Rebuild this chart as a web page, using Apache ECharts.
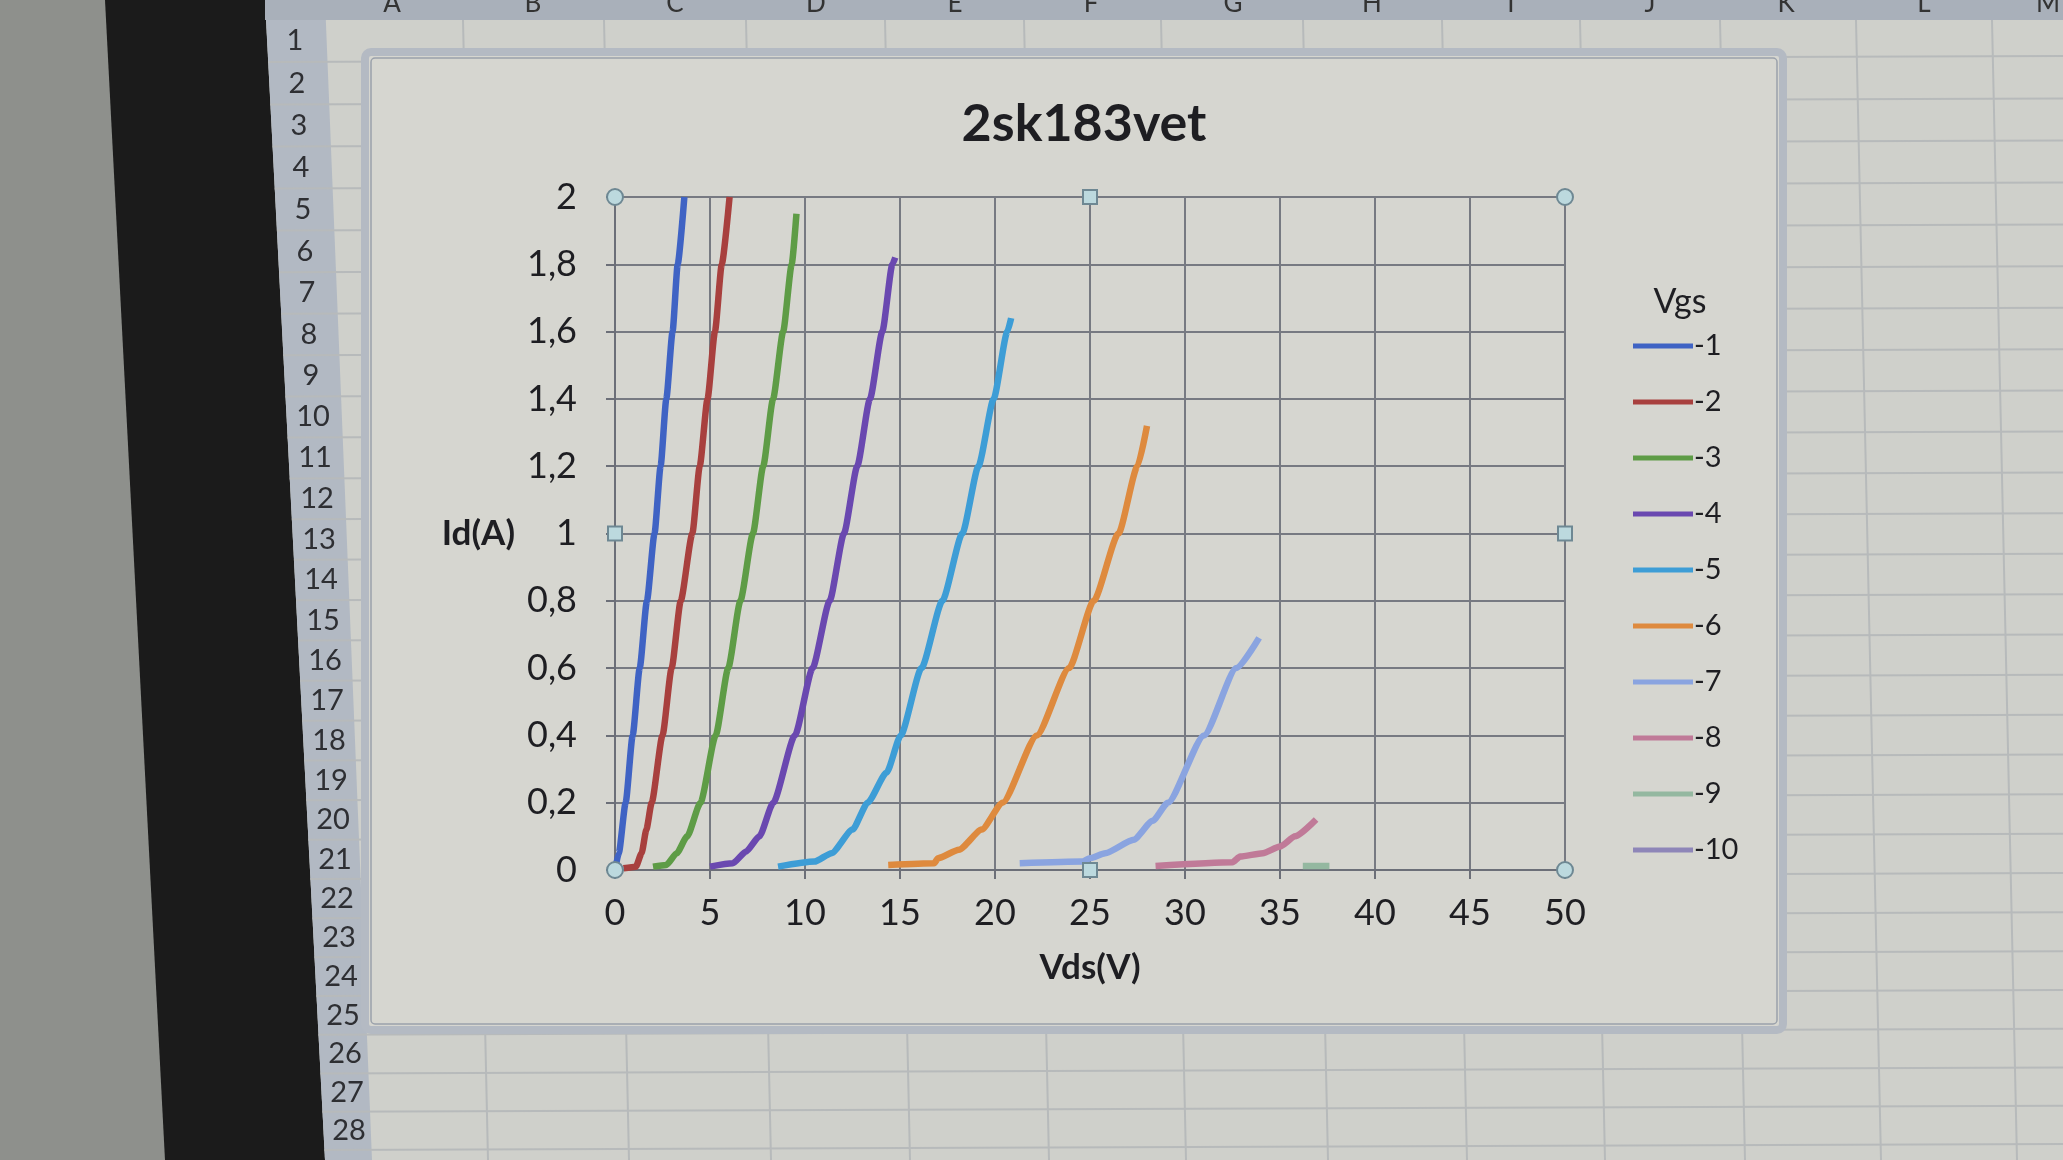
<!DOCTYPE html>
<html>
<head>
<meta charset="utf-8">
<script src="https://cdn.jsdelivr.net/npm/echarts@6/dist/echarts.min.js"></script>
<style>
html,body{margin:0;padding:0;background:#cfd0cb;}
#c{width:2063px;height:1160px;}
</style>
</head>
<body>
<div id="c"></div>
<script>
// ---- data ----
const chartTitle = '2sk183vet';
const legendTitle = 'Vgs';
const xName = 'Vds(V)';
const yName = 'Id(A)';
const vgsLabels = ['-1','-2','-3','-4','-5','-6','-7','-8','-9','-10'];
const vgs1 = [[0,0],[0.2,0.05],[0.56,0.2],[0.93,0.4],[1.3,0.6],[1.68,0.8],[2.08,1.0],[2.4,1.2],[2.7,1.4],[3.03,1.6],[3.3,1.8],[3.65,2.0]];
const vgs2 = [[0.45,0.005],[1.1,0.01],[1.4,0.05],[1.65,0.12],[1.93,0.2],[2.5,0.4],[2.98,0.6],[3.46,0.8],[4.07,1.0],[4.46,1.2],[4.87,1.4],[5.26,1.6],[5.62,1.8],[6.03,2.0]];
const vgs3 = [[2.0,0.01],[2.7,0.015],[3.25,0.05],[3.8,0.1],[4.5,0.2],[5.3,0.4],[5.96,0.6],[6.6,0.8],[7.26,1.0],[7.8,1.2],[8.32,1.4],[8.85,1.6],[9.3,1.8],[9.55,1.95]];
const vgs4 = [[5.0,0.01],[6.2,0.02],[6.9,0.055],[7.6,0.1],[8.33,0.2],[9.47,0.4],[10.4,0.6],[11.3,0.8],[12.05,1.0],[12.75,1.2],[13.42,1.4],[14.07,1.6],[14.6,1.8],[14.75,1.82]];
const vgs5 = [[8.58,0.01],[10.5,0.025],[11.4,0.05],[12.5,0.12],[13.3,0.2],[14.3,0.29],[15.04,0.4],[16.13,0.6],[17.23,0.8],[18.28,1.0],[19.13,1.2],[19.93,1.4],[20.65,1.6],[20.85,1.64]];
const vgs6 = [[14.38,0.015],[16.8,0.02],[17.0,0.035],[18.1,0.06],[19.3,0.12],[20.4,0.2],[22.2,0.4],[23.9,0.6],[25.2,0.8],[26.5,1.0],[27.5,1.2],[28.0,1.32]];
const vgs7 = [[21.3,0.02],[24.6,0.025],[25.0,0.035],[25.8,0.05],[27.3,0.09],[28.3,0.146],[29.1,0.2],[31.0,0.4],[32.7,0.6],[33.9,0.69]];
const vgs8 = [[28.45,0.012],[32.5,0.023],[32.9,0.04],[34.1,0.05],[35.0,0.07],[35.8,0.1],[36.9,0.15]];
const vgs9 = [[36.2,0.012],[37.6,0.012]];
const vgs10 = [];
const curves = [vgs1,vgs2,vgs3,vgs4,vgs5,vgs6,vgs7,vgs8,vgs9,vgs10];
const columnLetters = ['A','B','C','D','E','F','G','H','I','J','K','L','M'];

// ---- styling ----
const colors = ['#3f63c4','#a8403e','#5e9c46','#6a48b0','#3d9dd6','#de8a3e','#8aa4e0','#c07a98','#94b8a0','#8e86b8'];
const FONT = 'Lato, "Open Sans", sans-serif';
const TXT = '#1e1e22';
const G = {left:615, top:197, width:950, height:673};

const chart = echarts.init(document.getElementById('c'));

// spreadsheet / monitor surroundings
const bg = [];
bg.push({type:'polygon', z:-20, shape:{points:[[0,0],[110,0],[170,1160],[0,1160]]}, style:{fill:'#8e908c'}});
bg.push({type:'polygon', z:-19, shape:{points:[[105,0],[265,0],[325,1160],[165,1160]]}, style:{fill:'#1b1b1b'}});
bg.push({type:'polygon', z:-18, shape:{points:[[265,0],[325,0],[372,1160],[325,1160]]}, style:{fill:'#b2b9c3'}});
bg.push({type:'rect', z:-18, shape:{x:265,y:0,width:1798,height:20}, style:{fill:'#a9b0ba'}});
const colX = [392,533,675,816,955,1091,1233,1372,1511,1650,1786,1924,2048];
columnLetters.forEach((c,i)=>{
  bg.push({type:'text', z:-17, style:{text:c, x:colX[i], y:4, fill:'#333', font:'26px '+FONT, textAlign:'center', textVerticalAlign:'middle'}});
});
[463,604,746,885,1024,1161,1303,1442,1580,1720,1856,1992].forEach(x=>{
  bg.push({type:'line', z:-17, shape:{x1:x,y1:20,x2:x+25,y2:1160}, style:{stroke:'#b7babb', lineWidth:2}});
});
for(let i=1;i<=28;i++){
  const k=i-1;
  const yd = 31 + 32.3*k - 0.06*k*k;
  const y = yd*1.316;
  const x = 295 + 54*k/27;
  bg.push({type:'text', z:-16, style:{text:String(i), x:x, y:y, fill:'#2e2f33', font:'29px '+FONT, textAlign:'center', textVerticalAlign:'middle'}});
  const yb = (31 + 32.3*(k+0.5) - 0.06*(k+0.5)*(k+0.5))*1.316;
  const xl = 265 + 60*yb/1160;
  bg.push({type:'line', z:-17, shape:{x1:xl,y1:yb,x2:2063,y2:yb-6}, style:{stroke:'#b7babb', lineWidth:2}});
}
// chart frame
bg.push({type:'rect', z:-5, shape:{x:365,y:52,width:1418,height:978, r:6}, style:{fill:'#d6d6d0', stroke:'#b4bac3', lineWidth:8}});
bg.push({type:'rect', z:-4, shape:{x:371,y:58,width:1406,height:966, r:4}, style:{fill:'none', stroke:'#9aa1ab', lineWidth:1.5}});
// plot-area selection handles
const hx=[G.left, G.left+G.width/2, G.left+G.width], hy=[G.top, G.top+G.height/2, G.top+G.height];
[[0,0],[2,0],[0,2],[2,2]].forEach(p=>{
  bg.push({type:'circle', z:10, shape:{cx:hx[p[0]], cy:hy[p[1]], r:8}, style:{fill:'#bcd9de', stroke:'#6e8893', lineWidth:2}});
});
[[1,0],[1,2],[0,1],[2,1]].forEach(p=>{
  bg.push({type:'rect', z:10, shape:{x:hx[p[0]]-7, y:hy[p[1]]-7, width:14, height:14}, style:{fill:'#bcd9de', stroke:'#6e8893', lineWidth:2}});
});

const fmt = v => {
  const s = (Math.round(v*10)/10).toString();
  return s.replace('.', ',');
};

const option = {
  animation:false,
  backgroundColor:'transparent',
  color: colors,
  title:[
    {text:chartTitle, left:1079, top:93, textAlign:'center', textStyle:{fontSize:52, fontWeight:'bold', color:TXT, fontFamily:FONT}},
    {text:legendTitle, left:1675, top:280, textAlign:'center', textStyle:{fontSize:34, fontWeight:'normal', color:TXT, fontFamily:FONT}}
  ],
  legend:{
    data: vgsLabels, orient:'vertical', left:1628, top:321,
    icon:'rect', itemWidth:60, itemHeight:5, itemGap:16,
    textStyle:{fontSize:29, lineHeight:40, color:TXT, fontFamily:FONT, padding:[0,0,0,-4]}
  },
  grid:{left:G.left, top:G.top, width:G.width, height:G.height, containLabel:false},
  xAxis:{
    type:'value', min:0, max:50, interval:5,
    name:xName, nameLocation:'middle', nameGap:80,
    nameTextStyle:{fontSize:35, fontWeight:'bold', color:TXT, fontFamily:FONT},
    axisLine:{show:true, lineStyle:{color:'#6c6f78', width:2}},
    axisTick:{show:true, length:9, lineStyle:{color:'#6c6f78', width:2}},
    splitLine:{show:true, lineStyle:{color:'#777a82', width:2}},
    axisLabel:{fontSize:36, color:TXT, fontFamily:FONT, margin:25}
  },
  yAxis:{
    type:'value', min:0, max:2, interval:0.2,
    name:yName, nameLocation:'middle', nameGap:100, nameRotate:0,
    nameTextStyle:{fontSize:35, fontWeight:'bold', color:TXT, fontFamily:FONT},
    axisLine:{show:true, lineStyle:{color:'#6c6f78', width:2}},
    axisTick:{show:true, length:9, lineStyle:{color:'#6c6f78', width:2}},
    splitLine:{show:true, lineStyle:{color:'#777a82', width:2}},
    axisLabel:{fontSize:36, color:TXT, fontFamily:FONT, margin:38, formatter:fmt}
  },
  series: curves.map((d,i)=>({
    name: vgsLabels[i], type:'line', data:d, showSymbol:false, symbol:'none',
    smooth:0.2, smoothMonotone:'x',
    lineStyle:{width:6.5, color:colors[i]}, itemStyle:{color:colors[i]}, z:3
  })),
  graphic: bg
};
chart.setOption(option);
</script>
</body>
</html>
